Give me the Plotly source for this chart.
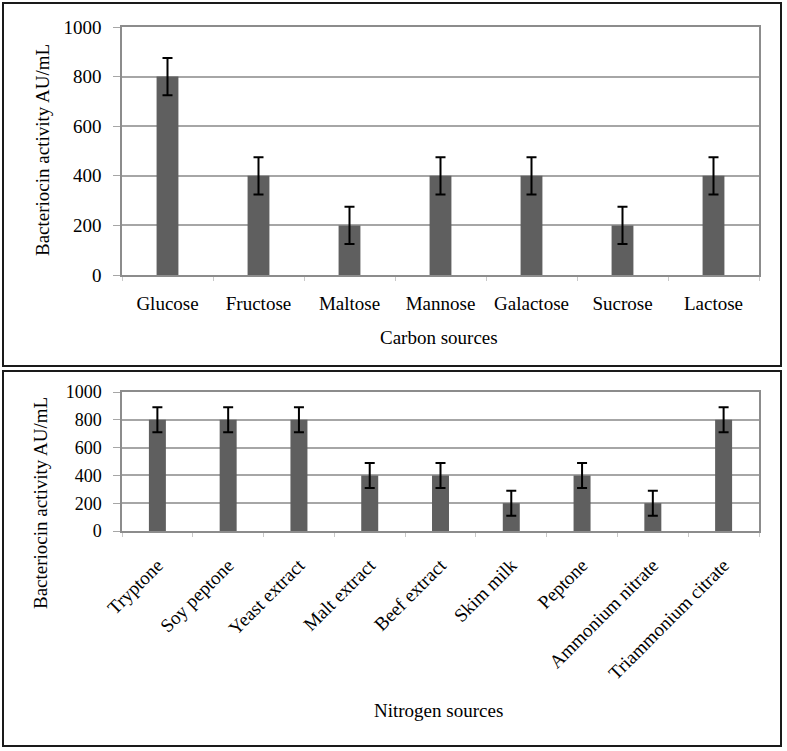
import plotly.graph_objects as go

carbon = ["Glucose", "Fructose", "Maltose", "Mannose", "Galactose", "Sucrose", "Lactose"]
carbon_vals = [800, 400, 200, 400, 400, 200, 400]
carbon_err = [75, 75, 75, 75, 75, 75, 75]

nitrogen = ["Tryptone", "Soy peptone", "Yeast extract", "Malt extract", "Beef extract",
            "Skim milk", "Peptone", "Ammonium nitrate", "Triammonium citrate"]
nitrogen_vals = [800, 800, 800, 400, 400, 200, 400, 200, 800]
nitrogen_err = [90, 90, 90, 90, 90, 90, 90, 90, 90]

W, H = 787, 751
FONT = "Liberation Serif, Times New Roman, serif"
BAR = "#5f5f5f"


def px(x):
    return x / W


def py(y):
    return 1 - y / H


fig = go.Figure()
fig.add_trace(go.Bar(x=carbon, y=carbon_vals, width=0.24, marker_color=BAR,
                     marker_line_width=0,
                     error_y=dict(type="data", array=carbon_err, color="black",
                                  thickness=2, width=5),
                     xaxis="x", yaxis="y", showlegend=False))
fig.add_trace(go.Bar(x=nitrogen, y=nitrogen_vals, width=0.24, marker_color=BAR,
                     marker_line_width=0,
                     error_y=dict(type="data", array=nitrogen_err, color="black",
                                  thickness=2, width=5),
                     xaxis="x2", yaxis="y2", showlegend=False))

axis_common = dict(showline=True, mirror=True, linecolor="#8c8c8c", linewidth=1.5,
                   automargin=False)
fig.update_layout(
    width=W, height=H, margin=dict(l=0, r=0, t=0, b=0, autoexpand=False),
    paper_bgcolor="white", plot_bgcolor="white",
    font=dict(family=FONT, color="black", size=19),
    xaxis=dict(domain=[px(122), px(759)], anchor="y", tickfont=dict(size=19, color="black"),
               ticks="outside", tickson="boundaries", ticklen=4, tickcolor="#c8c8c8",
               ticklabelstandoff=10, showgrid=False, **axis_common),
    yaxis=dict(domain=[py(275), py(27)], anchor="x", range=[0, 1000], dtick=200,
               tickfont=dict(size=19, color="black"), ticks="outside", ticklen=7,
               tickcolor="#a6a6a6", ticklabelstandoff=8,
               showgrid=True, gridcolor="#a6a6a6", gridwidth=1.5, zeroline=False,
               **axis_common),
    xaxis2=dict(domain=[px(122), px(759)], anchor="y2", tickfont=dict(size=19, color="black"),
                tickangle=-45, ticks="outside", tickson="boundaries", ticklen=4,
                tickcolor="#c8c8c8", ticklabelstandoff=14, showgrid=False, **axis_common),
    yaxis2=dict(domain=[py(531), py(392)], anchor="x2", range=[0, 1000], dtick=200,
                tickfont=dict(size=18, color="black"), ticks="outside", ticklen=7,
                tickcolor="#a6a6a6", ticklabelstandoff=8,
                showgrid=True, gridcolor="#a6a6a6", gridwidth=1.5, zeroline=False,
                **axis_common),
)

ann = [
    dict(text="Bacteriocin activity AU/mL", x=px(43), y=py(150), textangle=-90, size=19),
    dict(text="Bacteriocin activity AU/mL", x=px(40), y=py(503), textangle=-90, size=19),
    dict(text="Carbon sources", x=px(439), y=py(337), textangle=0, size=19),
    dict(text="Nitrogen sources", x=px(438), y=py(710), textangle=0, size=19),
]
for a in ann:
    fig.add_annotation(text=a["text"], x=a["x"], y=a["y"], xref="paper", yref="paper",
                       showarrow=False, textangle=a["textangle"],
                       font=dict(family=FONT, size=a["size"], color="black"),
                       xanchor="center", yanchor="middle")

fig.add_shape(type="rect", xref="paper", yref="paper", x0=px(3), x1=px(781),
              y0=py(366), y1=py(3), line=dict(color="#1a1a1a", width=2))
fig.add_shape(type="rect", xref="paper", yref="paper", x0=px(3), x1=px(781),
              y0=py(746), y1=py(371), line=dict(color="#1a1a1a", width=2))

fig.write_html("out.html", config={"displayModeBar": False},
               post_script="document.body.style.margin='0';document.body.style.overflow='hidden';")
